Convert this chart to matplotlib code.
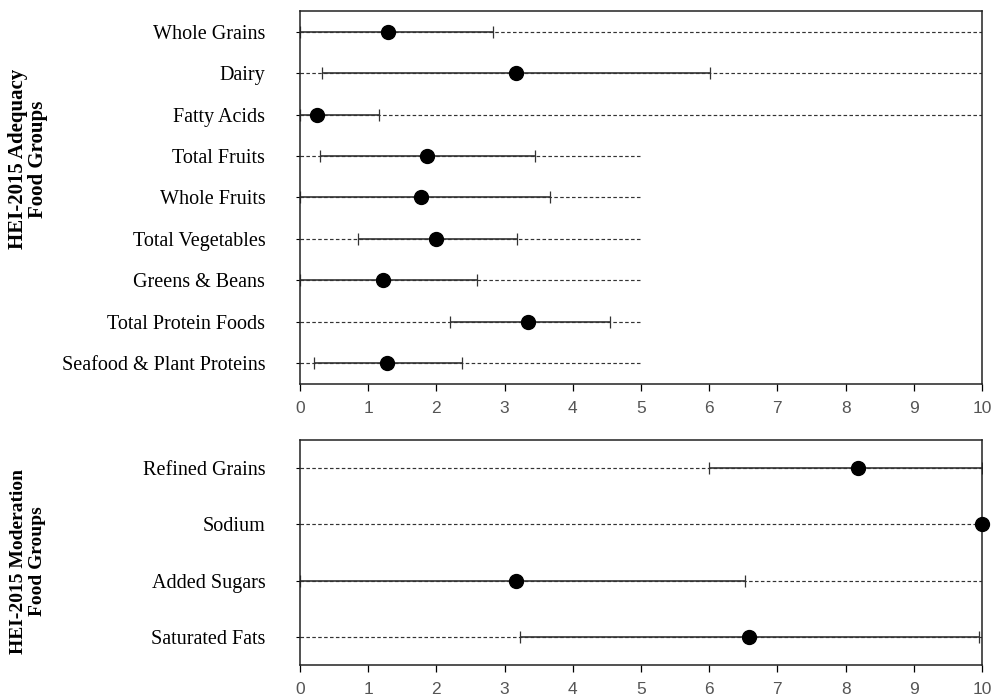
import matplotlib
matplotlib.use("Agg")
import matplotlib.pyplot as plt
import numpy as np

# Adequacy food groups
adeq_labels = ["Whole Grains", "Dairy", "Fatty Acids", "Total Fruits", "Whole Fruits",
               "Total Vegetables", "Greens & Beans", "Total Protein Foods",
               "Seafood & Plant Proteins"]
adeq_mean = [1.29, 3.17, 0.25, 1.86, 1.77, 2.00, 1.21, 3.35, 1.28]
adeq_low = [0.0, 0.32, 0.0, 0.29, 0.0, 0.85, 0.0, 2.20, 0.20]
adeq_high = [2.83, 6.01, 1.16, 3.45, 3.67, 3.18, 2.60, 4.54, 2.38]
adeq_max = [10, 10, 10, 5, 5, 5, 5, 5, 5]

# Moderation food groups
mod_labels = ["Refined Grains", "Sodium", "Added Sugars", "Saturated Fats"]
mod_mean = [8.18, 10.0, 3.17, 6.58]
mod_low = [6.0, 10.0, 0.0, 3.22]
mod_high = [10.0, 10.0, 6.52, 9.95]
mod_max = [10, 10, 10, 10]

xticks = list(range(0, 11))

fig = plt.figure(figsize=(9.94, 6.98), dpi=100)
ax1 = fig.add_axes([300/994, 1-384/698, 682/994, 373/698])
ax2 = fig.add_axes([300/994, 1-665/698, 682/994, 225/698])

serif = ["Liberation Serif", "DejaVu Serif"]
narrow = ["Liberation Sans Narrow", "Liberation Sans", "DejaVu Sans"]

def draw(ax, labels, mean, low, high, mx):
    n = len(labels)
    y = np.arange(n)
    ax.hlines(y, 0, mx, linestyles=(0, (3, 2)), colors="#333333", lw=0.85, zorder=1)
    m = np.array(mean); lo = np.array(low); hi = np.array(high)
    ax.errorbar(m, y, xerr=[m - lo, hi - m], fmt="none", ecolor="#333333",
                elinewidth=1.2, capsize=4, capthick=0.9, zorder=2)
    ax.plot(m, y, "o", color="black", markersize=10, zorder=3, clip_on=False)
    ax.set_xlim(0, 10)
    ax.set_ylim(n - 0.5, -0.5)
    ax.set_yticks(y)
    ax.set_yticklabels(labels, fontfamily=serif, fontsize=14.5)
    ax.set_xticks(xticks)
    ax.set_xticklabels([str(t) for t in xticks], fontfamily=narrow, fontsize=12.5,
                       color="#555555")
    ax.tick_params(axis="y", length=3, width=0.8, pad=22)
    ax.tick_params(axis="x", length=5, width=0.9, pad=7)
    for s in ax.spines.values():
        s.set_linewidth(1.1)
        s.set_color("#222222")

draw(ax1, adeq_labels, adeq_mean, adeq_low, adeq_high, adeq_max)
draw(ax2, mod_labels, mod_mean, mod_low, mod_high, mod_max)

fig.text(28/994, 1-159/698, "HEI-2015 Adequacy\nFood Groups", rotation=90,
         ha="center", va="center", fontfamily=serif, fontweight="bold",
         fontsize=15, linespacing=1.05)
fig.text(28/994, 1-561/698, "HEI-2015 Moderation\nFood Groups", rotation=90,
         ha="center", va="center", fontfamily=serif, fontweight="bold",
         fontsize=14, linespacing=1.1)

fig.savefig("out.png", dpi=100)
